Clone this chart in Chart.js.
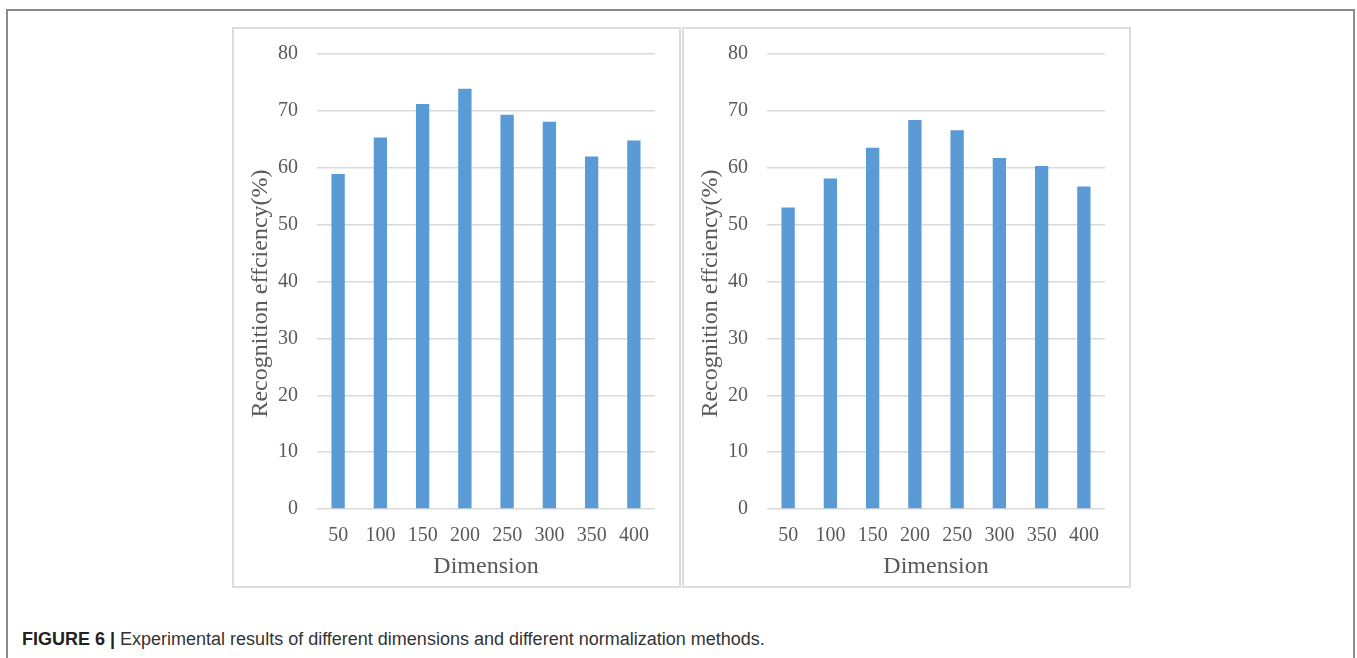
<!DOCTYPE html>
<html>
<head>
<meta charset="utf-8">
<script src="https://cdn.jsdelivr.net/npm/chart.js@4.4.1/dist/chart.umd.min.js"></script>
<style>
  html, body { margin: 0; padding: 0; background: #ffffff; }
  body { width: 1357px; height: 658px; position: relative; overflow: hidden; }
  #outer { position: absolute; left: 6px; top: 9px; width: 1349px; height: 700px;
           border: 2px solid #8a8a8a; box-sizing: border-box; }
  .panel { position: absolute; top: 27px; width: 449px; height: 561px;
           border: 2px solid #dcdcdc; box-sizing: border-box; background: #fff; }
  .panel canvas { position: absolute; left: 0; top: 0; }
  #p1 { left: 232px; }
  #p2 { left: 682px; }
  #caption { position: absolute; left: 22px; top: 629px; font-family: "Liberation Sans", Arial, sans-serif;
             font-size: 18px; color: #333; white-space: nowrap; }
  #caption b { color: #222; }
</style>
</head>
<body>
<div id="outer"></div>
<div class="panel" id="p1"><canvas id="c1" width="445" height="557"></canvas></div>
<div class="panel" id="p2"><canvas id="c2" width="445" height="557"></canvas></div>
<div id="caption"><b>FIGURE 6 |</b> Experimental results of different dimensions and different normalization methods.</div>
<script>
const categories = ["50", "100", "150", "200", "250", "300", "350", "400"];
const leftValues = [58.9, 65.3, 71.2, 73.9, 69.3, 68.1, 62.0, 64.8];
const rightValues = [53.0, 58.1, 63.5, 68.4, 66.6, 61.7, 60.3, 56.7];
const yTicks = [0, 10, 20, 30, 40, 50, 60, 70, 80];
const yTitle = "Recognition effciency(%)";
const xTitle = "Dimension";

const textColor = "#595959";
const serif = "'Liberation Serif', 'Times New Roman', serif";

function makeChart(id, values) {
  return new Chart(document.getElementById(id), {
    type: 'bar',
    data: {
      labels: categories,
      datasets: [{
        data: values,
        backgroundColor: '#5b9bd5',
        borderWidth: 0,
        barPercentage: 0.315,
        categoryPercentage: 1.0
      }]
    },
    options: {
      responsive: false,
      animation: false,
      devicePixelRatio: 1,
      layout: { padding: { left: 0, right: 24, top: 25, bottom: 0 } },
      plugins: { legend: { display: false }, tooltip: { enabled: false } },
      scales: {
        x: {
          grid: { display: false },
          border: { display: false },
          ticks: { color: textColor, font: { family: serif, size: 20 }, padding: 7, maxRotation: 0, autoSkip: false },
          title: { display: true, text: xTitle, color: textColor, font: { family: serif, size: 24 }, padding: { top: 0, bottom: 5 } },
          afterFit: (s) => { s.height = 77; }
        },
        y: {
          min: 0, max: 80,
          afterBuildTicks: (s) => { s.ticks = yTicks.map(v => ({ value: v })); },
          grid: { color: '#d9d9d9', lineWidth: 1.5, drawTicks: true, tickLength: 16, tickColor: 'rgba(0,0,0,0)' },
          border: { display: false },
          ticks: { color: textColor, font: { family: serif, size: 20 }, padding: 3 },
          title: { display: true, text: yTitle + "    ", color: textColor, font: { family: serif, size: 24 }, padding: { top: 12, bottom: 0 } },
          afterFit: (s) => { s.width = 83; }
        }
      }
    }
  });
}
makeChart('c1', leftValues);
makeChart('c2', rightValues);
</script>
</body>
</html>
